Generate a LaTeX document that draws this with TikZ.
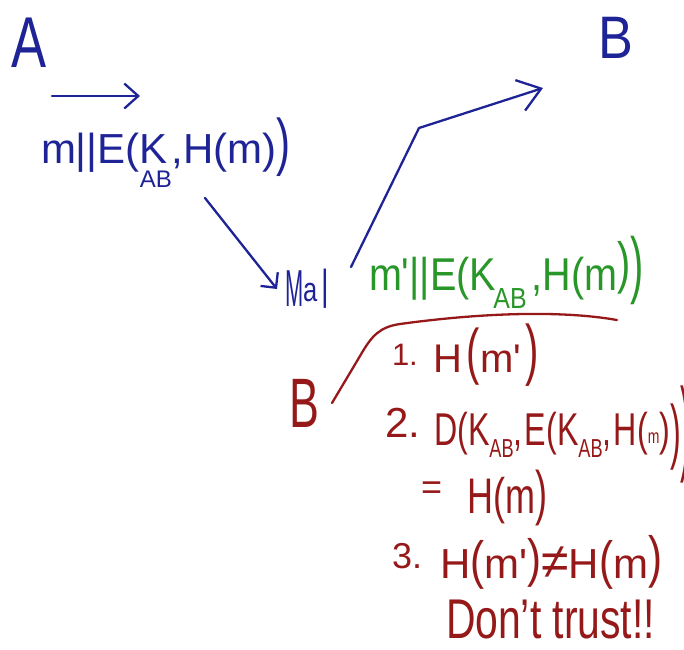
\documentclass[tikz,border=0pt]{standalone}
\usepackage{fontspec}
\usepackage{graphicx}
\setmainfont{Liberation Sans}
\usetikzlibrary{arrows.meta}
\definecolor{inkblue}{RGB}{30,35,150}
\definecolor{inkgreen}{RGB}{40,150,40}
\definecolor{inkred}{RGB}{150,25,25}
\newcommand\fs[1]{\fontsize{#1}{#1}\selectfont}
\newcommand\pp[3]{\raisebox{#2}{\scalebox{1}[#1]{#3}}}
\newcommand\sx[2]{\scalebox{#1}[1]{#2}}
\begin{document}
\begin{tikzpicture}[x=1pt,y=-1pt,
  txt/.style={inner sep=0pt, outer sep=0pt, anchor=base west},
  pen/.style={line width=2.3pt, line cap=round, line join=round}]
\useasboundingbox (0,0) rectangle (684,649);
\clip (0,0) rectangle (684,649);

% blue: sender side
\node[txt, text=inkblue] (A) at (12,67) {\fs{72}\sx{0.73}{A}};
\node[txt, text=inkblue] (Bt) at (598,58) {\fs{60}\sx{0.87}{B}};
\node[txt, text=inkblue] (msg) at (41,163) {\fs{42}m||E(\rlap{K}\raisebox{-24pt}{\fs{24}AB},H(m)\pp{1.5}{0pt}{)}};
\node[txt, text=inkblue] (mal) at (285,306) {\fs{52}\sx{0.42}{M}\raisebox{5pt}{\fs{34}\sx{0.75}{a}}\hspace{4pt}\raisebox{7pt}{\fs{42}\sx{0.7}{|}}};

\coordinate (a1s) at (52,96);
\coordinate (a1e) at (140,96);
\coordinate (a2s) at (205,198);
\coordinate (a2e) at (277,289);
\coordinate (a3s) at (351,267);
\coordinate (a3m) at (419,128);
\coordinate (a3e) at (543,88);
\draw[pen, inkblue, -{Straight Barb[length=14pt,width=25pt]}] (a1s) -- (a1e);
\draw[pen, inkblue, -{Straight Barb[length=11pt,width=22pt]}] (a2s) -- (a2e);
\draw[pen, inkblue, -{Straight Barb[length=22pt,width=32pt]}] (a3s) -- (a3m) -- (a3e);

% green: forged message
\node[txt, text=inkgreen] (msg2) at (369,290) {\fs{46}\sx{0.86}{m\textquotesingle||E(K\hspace{-3pt}\raisebox{-18pt}{\fs{29}AB}\hspace{6pt},H(m\pp{1.23}{8pt}{)}\pp{1.6}{1pt}{)}}};

% red: receiver checks
\coordinate (r1) at (332,403);
\coordinate (r2) at (360,356);
\coordinate (r3) at (400,324);
\coordinate (r4) at (617,320);
\draw[pen, inkred] (r1) -- (r2) .. controls (372,335) and (380,327) .. (r3)
  .. controls (480,313) and (560,310) .. (r4);
\node[txt, text=inkred] (Br) at (289,427) {\fs{70}\sx{0.64}{B}};

\node[txt, text=inkred] (s1) at (392,372) {\raisebox{7pt}{\fs{31}1.}\hspace{16pt}\fs{40}H\hspace{4pt}\pp{1.54}{0pt}{(}m\textquotesingle\hspace{4pt}\pp{1.68}{0pt}{)}};
\node[txt, text=inkred] (s2) at (385,445) {\raisebox{8pt}{\fs{42}2.}\hspace{14pt}\fs{46}\sx{0.70}{D(K\raisebox{-12pt}{\fs{26}AB},\hspace{3pt}E(K\raisebox{-12pt}{\fs{26}AB},\hspace{3pt}H(\raisebox{2pt}{\fs{20}m})\pp{1.55}{-10pt}{)}\pp{2.27}{-16pt}{)}}};
\node[txt, text=inkred] (s2b) at (421,513) {\raisebox{14pt}{\fs{36}=}\hspace{25pt}\fs{50}\sx{0.72}{H(m\pp{1.2}{0pt}{)}}};
\node[txt, text=inkred] (s3) at (392,578) {\raisebox{10pt}{\fs{36}3.}\hspace{18pt}\fs{42}H\pp{1.25}{0pt}{(}m\textquotesingle\pp{1.25}{2pt}{)}{\fs{50}≠}H\pp{1.25}{0pt}{(}m\pp{1.35}{2pt}{)}};
\node[txt, text=inkred] (s4) at (446,638) {\fs{56}\sx{0.73}{Don't trust!!}};
\end{tikzpicture}
\end{document}
